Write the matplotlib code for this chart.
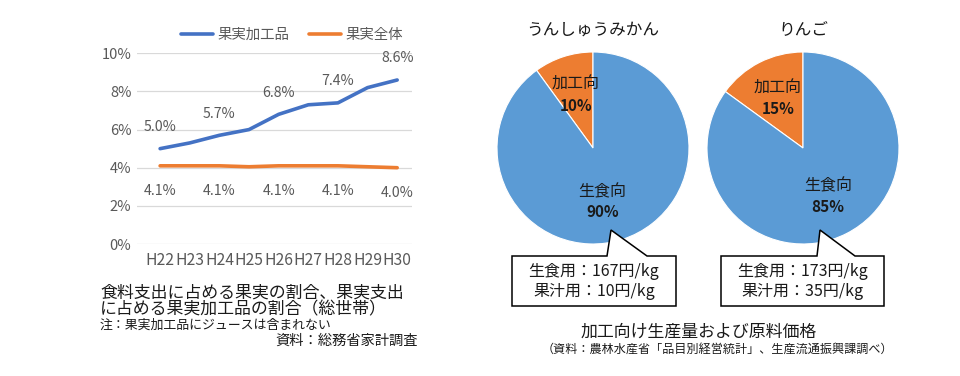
import numpy as np
import matplotlib
matplotlib.use("Agg")
import matplotlib.pyplot as plt
from matplotlib.patches import Polygon

plt.rcParams['font.family'] = ['Noto Sans CJK JP', 'DejaVu Sans']

# ---------------- data ----------------
years = ['H22', 'H23', 'H24', 'H25', 'H26', 'H27', 'H28', 'H29', 'H30']
processed_share = [5.0, 5.3, 5.7, 6.0, 6.8, 7.3, 7.4, 8.2, 8.6]
fruit_share = [4.1, 4.1, 4.1, 4.05, 4.1, 4.1, 4.1, 4.05, 4.0]
series_names = ['果実加工品', '果実全体']
y_ticks = [0, 2, 4, 6, 8, 10]

pie_titles = ['うんしゅうみかん', 'りんご']
pie_labels = ['加工向', '生食向']
pie_values = [[10, 90], [15, 85]]
price_fresh = [167, 173]
price_juice = [10, 35]

left_caption = ['食料支出に占める果実の割合、果実支出', 'に占める果実加工品の割合（総世帯）']
left_note = '注：果実加工品にジュースは含まれない'
left_source = '資料：総務省家計調査'
right_caption = '加工向け生産量および原料価格'
right_source = '（資料：農林水産省「品目別経営統計」、生産流通振興課調べ）'

BLUE_LINE = '#4472C4'
ORANGE = '#ED7D31'
BLUE_PIE = '#5B9BD5'
GREY = '#595959'
DARK = '#1a1a1a'

W, H = 960, 376
fig = plt.figure(figsize=(W / 100, H / 100), dpi=100)

# overlay axes in pixel coordinates (y measured from bottom)
ov = fig.add_axes([0, 0, 1, 1])
def Y(y):
    return H - y

# ---------------- line chart ----------------
ax_l, ax_r, ax_t, ax_b = 137, 412, 53.3, 244
ax = fig.add_axes([ax_l / W, 1 - ax_b / H, (ax_r - ax_l) / W, (ax_b - ax_t) / H])
x = np.arange(len(years))
ax.plot(x, processed_share, color=BLUE_LINE, lw=2.6, label=series_names[0], solid_capstyle='round')
ax.plot(x, fruit_share, color=ORANGE, lw=2.6, label=series_names[1], solid_capstyle='round')
ax.set_xlim(-0.78, 8.5)
ax.set_ylim(0, 10)
ax.set_yticks(y_ticks)
ax.set_yticklabels([f'{v}%' for v in y_ticks])
ax.set_xticks(x)
ax.set_xticklabels(years)
ax.grid(axis='y', color='#D9D9D9', lw=0.9)
ax.set_axisbelow(True)
for s in ax.spines.values():
    s.set_visible(False)
ax.tick_params(axis='both', length=0, colors=GREY)
ax.tick_params(axis='y', labelsize=10.5, pad=4)
ax.tick_params(axis='x', labelsize=11.3, pad=6)
for i in range(0, len(years), 2):
    ax.annotate(f'{processed_share[i]:.1f}%', (x[i], processed_share[i]), xytext=(0, 15.5),
                textcoords='offset points', ha='center', va='center', fontsize=10.2, color=GREY)
    ax.annotate(f'{fruit_share[i]:.1f}%', (x[i], fruit_share[i]), xytext=(0, -18),
                textcoords='offset points', ha='center', va='center', fontsize=10.2, color=GREY)
leg = ax.legend(loc='center left', bbox_to_anchor=(0.16, 1.095), ncol=2, frameon=False,
                fontsize=10.4, handlelength=2.2, columnspacing=1.4, handletextpad=0.3,
                borderaxespad=0, borderpad=0)
for t in leg.get_texts():
    t.set_color(GREY)

# left captions
ov.text(100, Y(293), left_caption[0], fontsize=12.2, ha='left', va='center', color=DARK)
ov.text(100, Y(309.5), left_caption[1], fontsize=12.2, ha='left', va='center', color=DARK)
ov.text(100, Y(325), left_note, fontsize=9.3, ha='left', va='center', color=DARK)
ov.text(418, Y(341), left_source, fontsize=10.3, ha='right', va='center', color=DARK)

# ---------------- pies ----------------
centers = [(593, 148), (803, 148)]
radius = 96
boxes = [(512, 676), (721, 884)]
pointers = [((607, 611, 647), 230), ((817, 820, 855), 230)]
box_top, box_bot = 256, 306

for k in range(2):
    cx, cy = centers[k]
    wedges, _ = ov.pie(pie_values[k], colors=[ORANGE, BLUE_PIE], startangle=90, counterclock=True,
                       center=(cx, Y(cy)), radius=radius,
                       wedgeprops=dict(edgecolor='white', linewidth=0.8))
    ov.text(cx, Y(30), pie_titles[k], fontsize=12, ha='center', va='center', color=DARK)
    dists = [0.58, 0.57]
    for j, w in enumerate(wedges):
        mid = np.deg2rad((w.theta1 + w.theta2) / 2)
        if j == 1 and k == 0:
            mid = np.deg2rad(-80)
        d = dists[j] * radius
        tx = cx + d * np.cos(mid)
        ty = Y(cy) + d * np.sin(mid)
        ov.text(tx, ty + 10.5, pie_labels[j], fontsize=11.5, ha='center', va='center', color=DARK)
        ov.text(tx, ty - 10.5, f'{pie_values[k][j]}%', fontsize=11, fontweight='bold',
                ha='center', va='center', color=DARK)
    # callout
    bl, br = boxes[k]
    (p1, ptip, p2), tip_y = pointers[k]
    poly = Polygon([(bl, Y(box_top)), (p1, Y(box_top)), (ptip, Y(tip_y)), (p2, Y(box_top)),
                    (br, Y(box_top)), (br, Y(box_bot)), (bl, Y(box_bot))],
                   closed=True, facecolor='white', edgecolor='black', lw=1.1, zorder=5)
    ov.add_patch(poly)
    bc = (bl + br) / 2
    ov.text(bc, Y(272), f'生食用：{price_fresh[k]}円/kg', fontsize=11.5, ha='center', va='center',
            color=DARK, zorder=6)
    ov.text(bc, Y(292), f'果汁用：{price_juice[k]}円/kg', fontsize=11.5, ha='center', va='center',
            color=DARK, zorder=6)

ov.text(699, Y(331.5), right_caption, fontsize=12.2, ha='center', va='center', color=DARK)
ov.text(717, Y(349), right_source, fontsize=8.7, ha='center', va='center', color=DARK)

ov.set_xlim(0, W)
ov.set_ylim(0, H)
ov.set_aspect('auto')
ov.axis('off')

fig.savefig('out.png', dpi=100)
